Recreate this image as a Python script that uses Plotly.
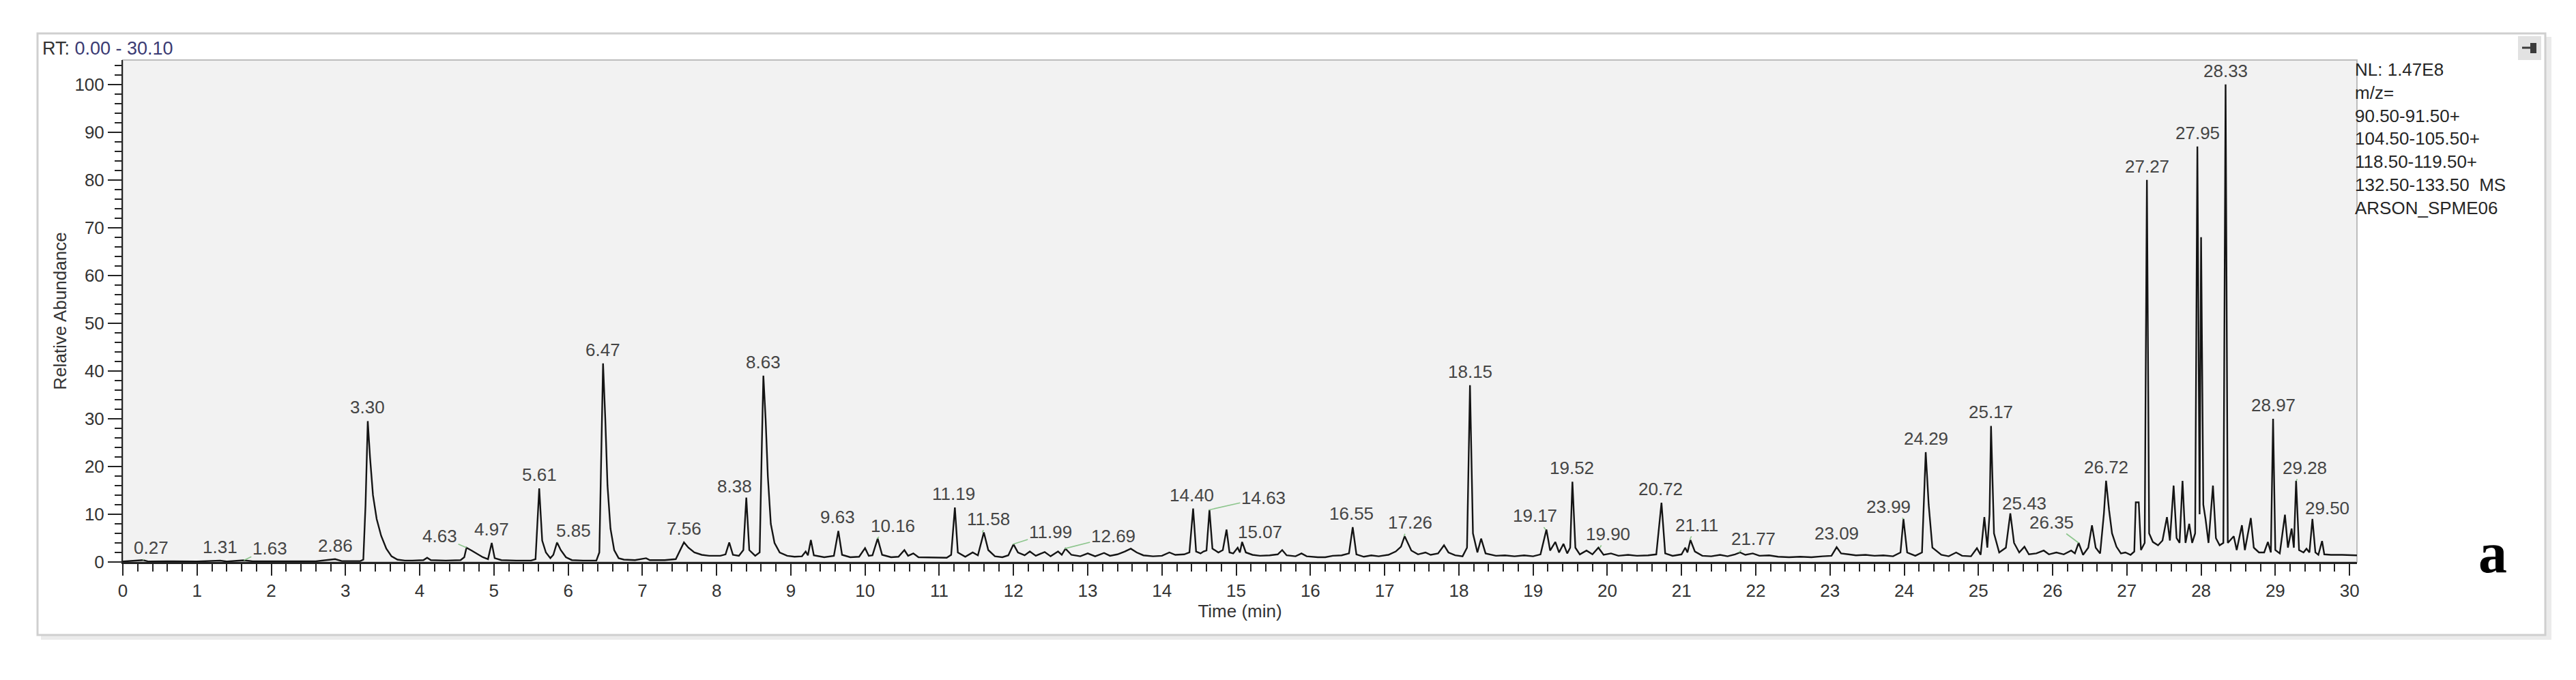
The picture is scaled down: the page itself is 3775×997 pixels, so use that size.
import numpy as np
import plotly.graph_objects as go

# ── chromatogram trace (time in min, relative abundance in %) ──
rt_min = [
    0.00, 0.27, 0.35, 0.60, 1.00, 1.31, 1.40, 1.63, 1.75, 2.20, 2.60, 2.86, 2.95, 3.20,
    3.24, 3.27, 3.30, 3.33, 3.37, 3.42, 3.48, 3.55, 3.62, 3.70, 3.80, 3.90, 4.05, 4.10,
    4.15, 4.35, 4.55, 4.60, 4.63, 4.70, 4.78, 4.85, 4.92, 4.97, 5.01, 5.10, 5.30, 5.50,
    5.56, 5.61, 5.65, 5.70, 5.76, 5.80, 5.85, 5.90, 5.97, 6.05, 6.20, 6.38, 6.42, 6.45,
    6.47, 6.50, 6.53, 6.57, 6.62, 6.68, 6.75, 6.90, 7.05, 7.10, 7.30, 7.45, 7.51, 7.56,
    7.62, 7.70, 7.80, 7.90, 8.05, 8.12, 8.17, 8.22, 8.30, 8.36, 8.40, 8.44, 8.52, 8.58,
    8.61, 8.63, 8.66, 8.69, 8.73, 8.78, 8.85, 8.95, 9.05, 9.15, 9.20, 9.23, 9.27, 9.31,
    9.45, 9.58, 9.64, 9.69, 9.80, 9.92, 10.00, 10.05, 10.10, 10.17, 10.23, 10.35, 10.45,
    10.53, 10.58, 10.65, 10.72, 10.85, 10.95, 11.10, 11.16, 11.21, 11.25, 11.35, 11.45,
    11.52, 11.60, 11.66, 11.75, 11.85, 11.93, 12.00, 12.06, 12.15, 12.22, 12.30, 12.42,
    12.50, 12.60, 12.65, 12.70, 12.78, 12.90, 13.00, 13.10, 13.22, 13.30, 13.40, 13.50,
    13.58, 13.66, 13.75, 13.88, 14.00, 14.10, 14.18, 14.30, 14.37, 14.42, 14.46, 14.52,
    14.56, 14.60, 14.64, 14.68, 14.76, 14.82, 14.87, 14.91, 14.96, 15.02, 15.05, 15.08,
    15.13, 15.22, 15.32, 15.45, 15.56, 15.62, 15.68, 15.80, 15.88, 15.95, 16.10, 16.20,
    16.30, 16.42, 16.52, 16.57, 16.62, 16.72, 16.82, 16.92, 17.05, 17.15, 17.22, 17.27,
    17.31, 17.36, 17.45, 17.55, 17.62, 17.72, 17.80, 17.86, 17.95, 18.05, 18.11, 18.15,
    18.19, 18.25, 18.30, 18.36, 18.50, 18.62, 18.75, 18.88, 19.00, 19.10, 19.18, 19.23,
    19.30, 19.35, 19.41, 19.46, 19.50, 19.53, 19.57, 19.63, 19.72, 19.80, 19.88, 19.95,
    20.05, 20.15, 20.28, 20.40, 20.55, 20.66, 20.73, 20.78, 20.88, 21.00, 21.05, 21.08,
    21.12, 21.18, 21.28, 21.40, 21.52, 21.62, 21.72, 21.79, 21.86, 21.96, 22.05, 22.18,
    22.30, 22.45, 22.60, 22.75, 22.90, 23.02, 23.09, 23.15, 23.25, 23.35, 23.48, 23.60,
    23.72, 23.85, 23.95, 23.99, 24.04, 24.15, 24.24, 24.27, 24.29, 24.33, 24.38, 24.50,
    24.60, 24.70, 24.78, 24.90, 24.98, 25.03, 25.08, 25.12, 25.15, 25.17, 25.21, 25.28,
    25.37, 25.43, 25.48, 25.55, 25.62, 25.68, 25.78, 25.88, 25.95, 26.05, 26.15, 26.25,
    26.30, 26.35, 26.41, 26.48, 26.53, 26.58, 26.64, 26.69, 26.72, 26.76, 26.80, 26.86,
    26.92, 26.98, 27.05, 27.10, 27.12, 27.16, 27.19, 27.24, 27.27, 27.30, 27.35, 27.42,
    27.48, 27.54, 27.58, 27.63, 27.67, 27.71, 27.75, 27.79, 27.84, 27.88, 27.92, 27.95,
    27.98, 28.00, 28.03, 28.06, 28.10, 28.16, 28.20, 28.25, 28.30, 28.33, 28.36, 28.44,
    28.48, 28.55, 28.59, 28.67, 28.71, 28.78, 28.85, 28.90, 28.94, 28.97, 29.00, 29.06,
    29.13, 29.17, 29.22, 29.25, 29.28, 29.32, 29.38, 29.42, 29.46, 29.50, 29.54, 29.58,
    29.63, 29.66, 29.75, 29.90, 30.10,
]
rel_abund = [
    0.1, 0.4, 0.1, 0.15, 0.1, 0.3, 0.1, 0.35, 0.15, 0.1, 0.15, 0.6, 0.2, 0.2,
    0.5, 12.0, 29.5, 22.0, 14.0, 9.0, 5.5, 2.8, 1.2, 0.5, 0.3, 0.3, 0.4, 0.9,
    0.4, 0.3, 0.4, 1.0, 3.0, 2.4, 1.6, 1.0, 0.6, 4.0, 0.8, 0.4, 0.3, 0.3,
    0.6, 15.4, 4.5, 2.0, 0.8, 1.5, 4.1, 2.5, 1.0, 0.4, 0.3, 0.3, 2.0, 25.0,
    41.6, 30.0, 16.0, 7.0, 2.5, 0.8, 0.5, 0.4, 0.8, 0.4, 0.4, 0.6, 2.5, 4.1,
    3.0, 2.0, 1.5, 1.3, 1.3, 1.6, 4.1, 1.5, 1.3, 2.5, 13.5, 2.5, 1.3, 2.0,
    25.0, 39.0, 30.0, 18.0, 8.0, 4.0, 2.0, 1.3, 1.1, 1.2, 2.2, 1.4, 4.6, 1.4,
    1.0, 1.3, 6.5, 1.5, 1.0, 1.1, 2.9, 1.3, 1.4, 4.9, 1.5, 1.0, 1.1,
    2.5, 1.3, 1.8, 1.0, 1.0, 0.9, 0.9, 1.5, 11.4, 2.0, 1.1, 2.0,
    1.4, 6.2, 2.5, 1.2, 1.0, 1.4, 3.7, 2.0, 1.4, 2.2, 1.3, 2.1,
    1.2, 2.2, 1.5, 2.8, 1.5, 1.2, 1.8, 1.2, 1.9, 1.3, 1.6, 2.2,
    2.8, 2.0, 1.4, 1.2, 1.3, 2.0, 1.5, 1.6, 2.0, 11.2, 2.2, 1.8,
    2.2, 2.4, 10.9, 2.8, 2.0, 2.5, 6.8, 2.0, 1.8, 3.0, 2.0, 4.2,
    2.0, 1.5, 1.3, 1.4, 1.6, 2.5, 1.4, 1.2, 1.8, 1.2, 1.0, 1.0,
    1.3, 1.4, 1.8, 7.3, 1.6, 1.1, 1.4, 1.2, 1.5, 2.2, 3.2, 5.4,
    4.0, 2.4, 1.6, 2.0, 1.5, 1.8, 3.5, 2.0, 1.4, 1.2, 3.0, 37.0,
    6.0, 2.0, 4.9, 1.8, 1.3, 1.4, 1.2, 1.4, 1.2, 1.6, 6.8, 2.4,
    4.2, 2.0, 3.8, 1.8, 3.0, 16.8, 3.0, 1.6, 2.4, 1.6, 3.0, 1.5,
    1.8, 1.3, 1.5, 1.3, 1.4, 1.6, 12.4, 1.8, 1.3, 1.6, 3.0, 2.0,
    4.6, 2.2, 1.3, 1.2, 1.5, 1.2, 1.6, 2.0, 1.5, 1.8, 1.3, 1.4,
    1.1, 1.0, 1.1, 1.0, 1.2, 1.3, 3.1, 1.8, 1.6, 1.4, 1.5, 1.3,
    1.4, 1.2, 2.0, 9.0, 2.0, 1.3, 2.0, 15.0, 23.0, 12.0, 3.0, 1.5,
    1.2, 2.0, 1.3, 1.2, 2.9, 1.5, 9.4, 3.0, 10.0, 28.5, 6.0, 2.0,
    3.0, 10.2, 4.0, 2.0, 3.2, 1.6, 1.8, 2.4, 1.6, 2.0, 1.6, 2.4,
    1.8, 4.0, 1.5, 3.0, 7.7, 3.0, 1.8, 10.0, 17.0, 10.9, 6.0, 3.2,
    1.8, 2.0, 1.5, 2.2, 12.5, 12.5, 2.5, 4.0, 80.0, 6.0, 4.2, 3.5,
    4.5, 9.4, 4.5, 16.0, 5.0, 4.0, 17.0, 4.0, 8.0, 4.0, 6.0, 87.0,
    10.0, 68.0, 12.0, 9.0, 4.0, 16.0, 5.0, 3.5, 4.0, 100.0, 4.0, 5.4,
    2.5, 7.7, 2.5, 9.2, 3.0, 2.0, 2.0, 4.2, 2.0, 30.0, 2.5, 1.8,
    9.9, 3.0, 7.0, 3.0, 17.0, 2.5, 2.0, 2.8, 2.0, 9.0, 2.0, 1.5,
    4.4, 1.6, 1.5, 1.5, 1.4,
]

# peak retention-time labels printed on the chromatogram
peak_labels = [
    "0.27", "1.31", "1.63", "2.86", "3.30", "4.63", "4.97", "5.61", "5.85", "6.47",
    "7.56", "8.38", "8.63", "9.63", "10.16", "11.19", "11.58", "11.99", "12.69",
    "14.40", "14.63", "15.07", "16.55", "17.26", "18.15", "19.17", "19.52", "19.90",
    "20.72", "21.11", "21.77", "23.09", "23.99", "24.29", "25.17", "25.43", "26.35",
    "26.72", "27.27", "27.95", "28.33", "28.97", "29.28", "29.50",
]

info_lines = [
    "NL: 1.47E8", "m/z=", "90.50-91.50+", "104.50-105.50+",
    "118.50-119.50+", "132.50-133.50  MS", "ARSON_SPME06",
]

# ── layout geometry (pixels of the 3775 x 997 page) ──
W, H = 3775, 997
PL, PR, PT, PB = 172, 3446, 80, 816
FONT = "Liberation Sans, Arial, sans-serif"

# labels that sit off to the side with a short green leader (pixel offset of the label)
LEADERS = {
    "0.27": (12, -18), "1.63": (38, -18), "4.63": (-39, -17), "5.85": (24, -17),
    "8.38": (-15, -16), "10.16": (23, -19), "11.58": (9, -20), "11.99": (55, -18),
    "12.69": (71, -18), "14.63": (80, -18), "15.07": (27, -15), "17.26": (9, -20),
    "19.17": (-16, -20), "19.90": (12, -20), "21.11": (10, -22), "21.77": (22, -20),
    "23.99": (-22, -18), "25.43": (20, -15), "26.35": (-40, -30), "29.28": (13, -19),
    "29.50": (22, -16),
}


def px(x, y):
    """page pixel -> paper coords"""
    return (x - PL) / (PR - PL), (PB - y) / (PB - PT)


t_arr = np.array(rt_min)
a_arr = np.array(rel_abund)

fig = go.Figure()
fig.add_trace(go.Scatter(
    x=rt_min, y=rel_abund, mode="lines",
    line=dict(color="#141414", width=2.4),
    hoverinfo="skip", showlegend=False,
))

annotations = []
for lab in peak_labels:
    t = float(lab)
    near = np.abs(t_arr - t) <= 0.04
    apex = float(a_arr[near].max())
    base = dict(x=t, y=apex, text=lab, font=dict(family=FONT, size=26, color="#454545"))
    if lab in LEADERS:
        dx, dy = LEADERS[lab]
        annotations.append(dict(base, showarrow=True, arrowhead=0, arrowwidth=1.6,
                                arrowcolor="#8cc58c", ax=dx, ay=dy, standoff=0))
    else:
        annotations.append(dict(base, showarrow=False, yanchor="bottom", yshift=3))

# RT range caption
x0, y0 = px(52, 63)
annotations.append(dict(
    xref="paper", yref="paper", x=x0, y=y0, xanchor="left", yanchor="middle",
    text="RT: <span style='color:#3b3b73'>0.00 - 30.10</span>", showarrow=False,
    font=dict(family=FONT, size=27, color="#333333"),
))
# normalisation / filter block on the right
x0, y0 = px(3441, 77)
annotations.append(dict(
    xref="paper", yref="paper", x=x0, y=y0, xanchor="left", yanchor="top", align="left",
    text="<br>".join(info_lines), showarrow=False,
    font=dict(family=FONT, size=26, color="#262626"),
))
# panel letter
x0, y0 = px(3645, 802)
annotations.append(dict(
    xref="paper", yref="paper", x=x0, y=y0, xanchor="center", yanchor="middle",
    text="<b>a</b>", showarrow=False,
    font=dict(family="Liberation Serif, Times New Roman, serif", size=84, color="#000000"),
))

shapes = []


def rect(x1, y1, x2, y2, **kw):
    a, b = px(x1, y2)
    c, d = px(x2, y1)
    shapes.append(dict(type="rect", xref="paper", yref="paper", x0=a, y0=b, x1=c, y1=d, **kw))


# outer window frame with a soft shadow
rect(3722, 46, 3731, 930, fillcolor="#ebebeb", line_width=0, layer="below")
rect(52, 923, 3731, 930, fillcolor="#ebebeb", line_width=0, layer="below")
rect(47, 41, 3722, 923, line=dict(color="#cfcfcf", width=3), layer="below")
# plot frame (top / right edges)
rect(PL, PT, PR, PB, line=dict(color="#bdbdbd", width=2), layer="below")
# pin icon
rect(3682, 45, 3716, 80, fillcolor="#e2e2e2", line_width=0)
rect(3700, 55, 3709, 70, fillcolor="#3a3a3a", line_width=0)
a, b = px(3688, 62)
c, d = px(3700, 62)
shapes.append(dict(type="line", xref="paper", yref="paper", x0=a, y0=b, x1=c, y1=d,
                   line=dict(color="#3a3a3a", width=3)))

axis_font = dict(family=FONT, size=26, color="#333333")
title_font = dict(family=FONT, size=26, color="#333333")

fig.update_layout(
    width=W, height=H, autosize=False,
    paper_bgcolor="white", plot_bgcolor="#f2f2f2",
    margin=dict(l=PL, r=W - PR, t=PT, b=H - PB, pad=0),
    showlegend=False,
    font=dict(family=FONT, color="#333333"),
    annotations=annotations, shapes=shapes,
    xaxis=dict(
        range=[0, 30.1], tick0=0, dtick=1, ticks="outside", ticklen=17, tickwidth=2,
        tickcolor="#222222", showline=True, linecolor="#222222", linewidth=3,
        showgrid=False, zeroline=False, tickfont=axis_font,
        minor=dict(dtick=0.2, ticks="outside", ticklen=11, tickwidth=2, tickcolor="#222222"),
        title=dict(text="Time (min)", font=title_font, standoff=6),
    ),
    yaxis=dict(
        range=[0, 105.1], tick0=0, dtick=10, ticks="outside", ticklen=20, tickwidth=2,
        tickcolor="#222222", showline=True, linecolor="#222222", linewidth=2,
        showgrid=False, zeroline=False, tickfont=axis_font,
        minor=dict(dtick=2, ticks="outside", ticklen=10, tickwidth=2, tickcolor="#222222"),
        title=dict(text="Relative Abundance", font=title_font, standoff=4),
    ),
)

fig.write_html("out.html")
